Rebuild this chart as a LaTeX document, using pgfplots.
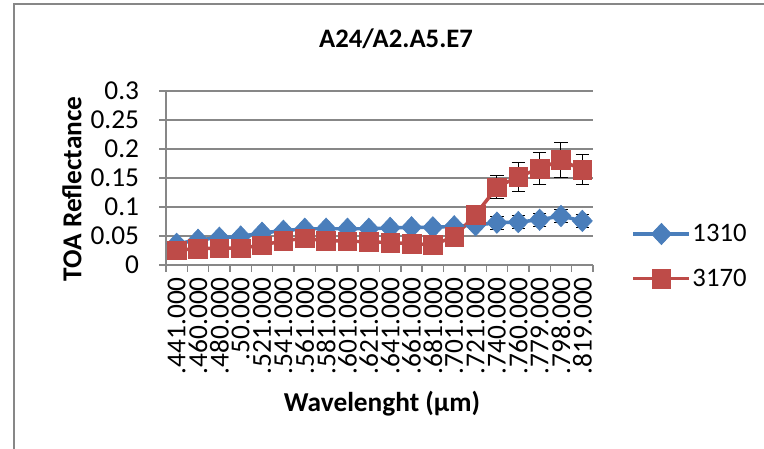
\documentclass[border=0pt]{standalone}
\usepackage{pgfplots}
\pgfplotsset{compat=1.18}
\usepackage{fontspec}
\setmainfont{Carlito}
\definecolor{serblue}{HTML}{4A7EBB}
\definecolor{serred}{HTML}{BE4B48}
\definecolor{gridgray}{HTML}{878787}
\begin{document}
\begin{tikzpicture}[x=0.75pt,y=0.75pt]
\useasboundingbox (0,0) rectangle (764,449);
\begin{scope}
\clip (0,0) rectangle (764,449);
\draw[gridgray, line width=0.9pt] (14,-20) -- (14,445) -- (780,445);
\end{scope}
\node[font=\fontsize{20}{23}\selectfont\bfseries, anchor=base] at (396,401) {A24/A2.A5.E7};
\node[font=\fontsize{20.5}{23}\selectfont\bfseries, rotate=90, anchor=center] at (72,260) {TOA Reflectance};
\node[font=\fontsize{20.5}{23}\selectfont\bfseries, anchor=base] at (382,37) {Wavelenght (μm)};
\begin{axis}[
  at={(166pt*0.75,184pt*0.75)}, anchor=south west,
  scale only axis, width=320.25pt, height=130.5pt,
  xmin=-0.5, xmax=19.5, ymin=0, ymax=0.3,
  axis lines*=left,
  axis line style={gridgray, line width=1.1pt},
  ytick={0,0.05,...,0.3},
  yticklabels={0,0.05,0.1,0.15,0.2,0.25,0.3},
  xtick={0,...,19},
  xticklabels={.441.000,.460.000,.480.000,.50.000,.521.000,.541.000,.561.000,.581.000,.601.000,.621.000,.641.000,.661.000,.681.000,.701.000,.721.000,.740.000,.760.000,.779.000,.798.000,.819.000},
  major x tick style={draw=none},
  minor xtick={-0.5,0.5,...,19.5},
  minor x tick style={gridgray, line width=1.1pt},
  y tick style={gridgray, line width=1.1pt},
  tick align=outside,
  major tick length=5pt,
  minor tick length=5pt,
  ymajorgrids,
  grid style={gridgray, line width=1.1pt},
  tick label style={font=\fontsize{20.5}{23}\selectfont},
  yticklabel style={anchor=east, inner sep=0pt, xshift=-15pt},
  xticklabel style={rotate=90, anchor=east, inner sep=0pt, xshift=-4pt},
  legend style={draw=none, fill=none, at={(1.09,0.05)}, anchor=west, inner sep=0pt,
    font=\fontsize{20}{23}\selectfont, row sep=17pt, nodes={inner sep=1pt}},
  legend cell align=left,
  legend image code/.code={\draw[mark repeat=2, mark phase=2] plot coordinates {(0pt,0pt) (21pt,0pt) (42pt,0pt)};},
  error bars/error bar style={black, line width=0.75pt},
  error bars/error mark options={rotate=90, mark size=5pt, black, line width=0.75pt},
  clip=false,
]
\addplot[serblue, line width=2.6pt, mark=diamond*, mark size=8pt,
  mark options={xscale=1.25, fill=serblue, draw=serblue, line width=0.5pt},
  error bars/.cd, y dir=both, y explicit]
coordinates {
(0,0.0365) +- (0,0.004)
(1,0.0434) +- (0,0.004)
(2,0.047) +- (0,0.004)
(3,0.049) +- (0,0.004)
(4,0.0556) +- (0,0.004)
(5,0.059) +- (0,0.004)
(6,0.0625) +- (0,0.004)
(7,0.0625) +- (0,0.004)
(8,0.0625) +- (0,0.004)
(9,0.0625) +- (0,0.004)
(10,0.064) +- (0,0.004)
(11,0.065) +- (0,0.004)
(12,0.065) +- (0,0.004)
(13,0.0667) +- (0,0.005)
(14,0.0685) +- (0,0.008)
(15,0.073) +- (0,0.011)
(16,0.074) +- (0,0.011)
(17,0.078) +- (0,0.011)
(18,0.0845) +- (0,0.012)
(19,0.076) +- (0,0.011)
};
\addlegendentry{1310}
\addplot[serred, line width=2.6pt, mark=square*, mark size=7pt,
  mark options={fill=serred, draw=serred, line width=0.5pt},
  error bars/.cd, y dir=both, y explicit]
coordinates {
(0,0.0252) +- (0,0.004)
(1,0.0284) +- (0,0.004)
(2,0.029) +- (0,0.004)
(3,0.029) +- (0,0.004)
(4,0.034) +- (0,0.004)
(5,0.042) +- (0,0.004)
(6,0.0458) +- (0,0.004)
(7,0.042) +- (0,0.004)
(8,0.041) +- (0,0.004)
(9,0.040) +- (0,0.004)
(10,0.0386) +- (0,0.004)
(11,0.0368) +- (0,0.004)
(12,0.0348) +- (0,0.004)
(13,0.0487) +- (0,0.005)
(14,0.087) +- (0,0.008)
(15,0.134) +- (0,0.0197)
(16,0.1525) +- (0,0.025)
(17,0.166) +- (0,0.028)
(18,0.181) +- (0,0.030)
(19,0.164) +- (0,0.026)
};
\addlegendentry{3170}
\end{axis}
\end{tikzpicture}
\end{document}
